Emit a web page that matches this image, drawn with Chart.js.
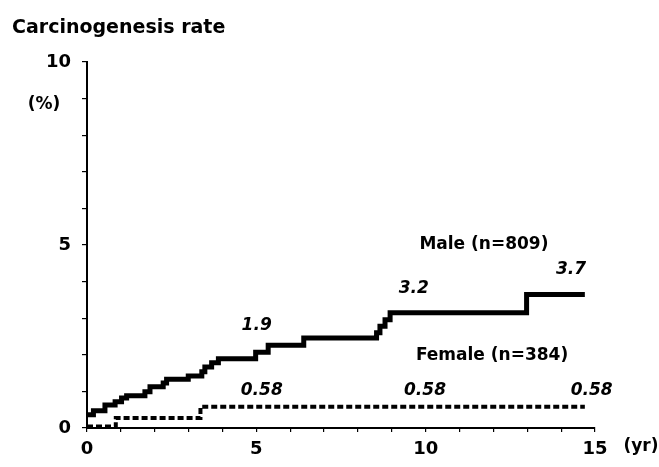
<!DOCTYPE html>
<html>
<head>
<meta charset="utf-8">
<script src="https://cdn.jsdelivr.net/npm/chart.js@4"></script>
<style>
  html, body { margin: 0; padding: 0; background: #fff; }
  #wrap { width: 659px; height: 467px; position: relative; }
</style>
</head>
<body>
<div id="wrap"><canvas id="c" width="659" height="467"></canvas></div>
<script>
// ---- data ----
const maleYears   = [0, 0.19, 0.53, 0.83, 1.02, 1.17, 1.71, 1.86, 2.25, 2.35, 2.99, 3.39, 3.48, 3.68, 3.88, 4.98, 5.35, 6.4, 8.55, 8.65, 8.8, 8.95, 12.98, 14.7];
const maleRates   = [0.36, 0.47, 0.63, 0.72, 0.82, 0.88, 0.99, 1.13, 1.23, 1.33, 1.42, 1.54, 1.67, 1.78, 1.89, 2.07, 2.26, 2.46, 2.6, 2.78, 2.96, 3.15, 3.65, 3.65];
const femaleYears = [0, 0.85, 3.35, 14.7];
const femaleRates = [0.04, 0.27, 0.58, 0.58];
const xTickLabels = ['0', '5', '10', '15'];
const yTickLabels = ['0', '5', '10'];
const titleText = 'Carcinogenesis rate';
const yUnitText = '(%)';
const xUnitText = '(yr)';
const annotationTexts = ['1.9', '3.2', '3.7', 'Male (n=809)', 'Female (n=384)', '0.58', '0.58', '0.58'];
const annotationX     = [5.01, 9.65, 14.29, 11.72, 11.96, 5.16, 9.98, 14.9];
const annotationY     = [2.81, 3.81, 4.33, 5.0, 1.99, 1.02, 1.03, 1.03];
const annotationItalic = [true, true, true, false, false, true, true, true];

const FONT = '"DejaVu Sans", "Liberation Sans", Arial, sans-serif';

const textPlugin = {
  id: 'textPlugin',
  afterDraw(chart) {
    const ctx = chart.ctx;
    const xs = chart.scales.x, ys = chart.scales.y;
    ctx.save();
    ctx.fillStyle = '#000';
    // title
    ctx.font = 'bold 19px ' + FONT;
    ctx.textAlign = 'left';
    ctx.textBaseline = 'alphabetic';
    ctx.fillText(titleText, 12, 33);
    // units
    ctx.font = 'bold 17px ' + FONT;
    ctx.textAlign = 'center';
    ctx.textBaseline = 'middle';
    ctx.fillText(yUnitText, 44, 105);
    ctx.fillText(xUnitText, 641, 447);
    // annotations
    for (let i = 0; i < annotationTexts.length; i++) {
      ctx.font = (annotationItalic[i] ? 'italic ' : '') + 'bold 17px ' + FONT;
      ctx.fillText(annotationTexts[i], xs.getPixelForValue(annotationX[i]), ys.getPixelForValue(annotationY[i]));
    }
    ctx.restore();
  }
};

const toPoints = (xa, ya) => xa.map((x, i) => ({ x: x, y: ya[i] }));

new Chart(document.getElementById('c'), {
  type: 'line',
  data: {
    datasets: [
      {
        label: 'Male (n=809)',
        data: toPoints(maleYears, maleRates),
        stepped: 'before',
        borderColor: '#000',
        borderWidth: 5,
        borderJoinStyle: 'miter',
        borderCapStyle: 'butt',
        pointRadius: 0,
        fill: false
      },
      {
        label: 'Female (n=384)',
        data: toPoints(femaleYears, femaleRates),
        stepped: 'before',
        borderColor: '#000',
        borderWidth: 4,
        borderDash: [6, 3],
        borderCapStyle: 'butt',
        pointRadius: 0,
        fill: false
      }
    ]
  },
  options: {
    responsive: false,
    animation: false,
    devicePixelRatio: 1,
    layout: { padding: { left: 0, top: 62, right: 64, bottom: 0 } },
    plugins: {
      legend: { display: false },
      tooltip: { enabled: false },
      title: { display: false }
    },
    scales: {
      x: {
        type: 'linear',
        min: 0, max: 15,
        afterFit(s) { s.height = 39; },
        border: { display: true, color: '#000', width: 2 },
        grid: { drawOnChartArea: false, drawTicks: true, tickLength: 4, color: '#000', lineWidth: 1.2 },
        ticks: {
          stepSize: 1,
          autoSkip: false,
          maxRotation: 0,
          padding: 7,
          color: '#000',
          font: { family: FONT, size: 18, weight: 'bold' },
          callback: (v) => (v % 5 === 0 ? xTickLabels[v / 5] : '')
        }
      },
      y: {
        type: 'linear',
        min: 0, max: 10,
        afterFit(s) { s.width = 87; },
        border: { display: true, color: '#000', width: 2 },
        grid: { drawOnChartArea: false, drawTicks: true, tickLength: 5, color: '#000', lineWidth: 1.2 },
        ticks: {
          stepSize: 1,
          autoSkip: false,
          padding: 11,
          color: '#000',
          font: { family: FONT, size: 18, weight: 'bold' },
          callback: (v) => (v % 5 === 0 ? yTickLabels[v / 5] : '')
        }
      }
    }
  },
  plugins: [textPlugin]
});
</script>
</body>
</html>
